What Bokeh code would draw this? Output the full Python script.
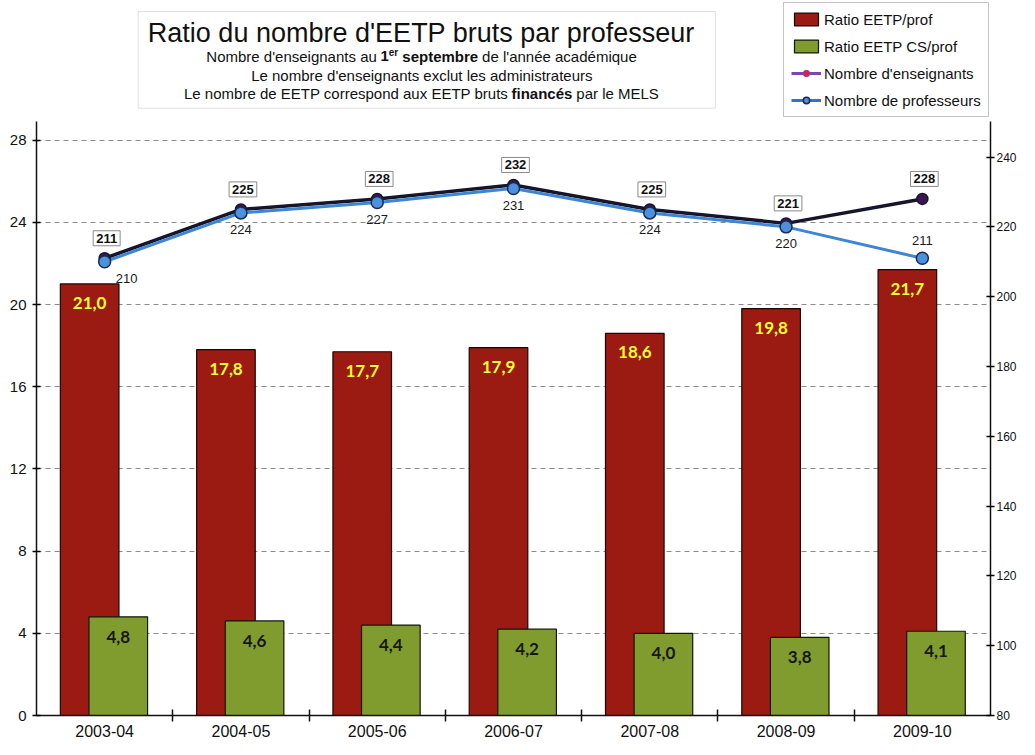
from bokeh.plotting import figure
from bokeh.models import (Range1d, LinearAxis, FixedTicker, ColumnDataSource, Legend,
                          LegendItem, BoxAnnotation, Label)
from bokeh.transform import dodge
from bokeh.core.properties import value
from bokeh.embed import file_html
from bokeh.resources import INLINE

# ---------------- data ----------------
categories = ["2003-04", "2004-05", "2005-06", "2006-07", "2007-08", "2008-09", "2009-10"]
ratio_eetp = [21.0, 17.8, 17.7, 17.9, 18.6, 19.8, 21.7]
ratio_cs = [4.8, 4.6, 4.4, 4.2, 4.0, 3.8, 4.1]
enseignants = [211, 225, 228, 232, 225, 221, 228]
professeurs = [210, 224, 227, 231, 224, 220, 211]
left_ticks = [0, 4, 8, 12, 16, 20, 24, 28]
right_ticks = [80, 100, 120, 140, 160, 180, 200, 220, 240]

title_text = "Ratio du nombre d'EETP bruts par professeur"
legend_labels = ["Ratio EETP/prof", "Ratio EETP CS/prof", "Nombre d'enseignants", "Nombre de professeurs"]

# ---------------- geometry (figure pixels) ----------------
W, H = 1019, 739
FL, FR, FT, FB = 36, 993, 0, 717
LPX = (717 - 140) / 28.0          # px per left unit
RPX = (717 - 157) / 160.0         # px per right unit
y_end = (FB - FT) / LPX
r_end = 80 + (FB - FT) / RPX
n = len(categories)

def sx(px):
    return (px - FL) / (FR - FL) * n

def sy(py):
    return (FB - py) / LPX

RED = "#9b1a11"
GREEN = "#809c2e"
FONT = "Liberation Sans"

p = figure(width=W, height=H, x_range=Range1d(0, n), y_range=Range1d(0, y_end),
           output_backend="svg", toolbar_location=None,
           min_border_left=FL, min_border_right=W - FR,
           min_border_top=FT, min_border_bottom=H - FB)
p.outline_line_color = None
p.background_fill_color = "white"
p.border_fill_color = "white"
p.extra_y_ranges = {"right": Range1d(80, r_end)}

# x axis
xa = p.xaxis[0]
xa.ticker = FixedTicker(ticks=[i + 0.5 for i in range(n)], minor_ticks=list(range(1, n)))
xa.major_label_overrides = {i + 0.5: c for i, c in enumerate(categories)}
xa.major_tick_in = 0
xa.major_tick_out = 0
xa.minor_tick_in = 6
xa.minor_tick_out = 6
xa.minor_tick_line_color = "#111111"
xa.minor_tick_line_width = 1.5
xa.axis_line_color = "#111111"
xa.axis_line_width = 1.5
xa.major_label_text_font = FONT
xa.major_label_text_font_size = "16px"
xa.major_label_text_color = "#111111"
xa.major_label_standoff = 3

# left y axis
ya = p.yaxis[0]
ya.ticker = FixedTicker(ticks=left_ticks)
ya.bounds = (0, (FB - 121) / LPX)
ya.major_tick_in = 4
ya.major_tick_out = 4
ya.minor_tick_in = 0
ya.minor_tick_out = 0
ya.axis_line_color = "#111111"
ya.axis_line_width = 1.5
ya.major_tick_line_width = 1.5
ya.major_label_text_font = FONT
ya.major_label_text_font_size = "15px"
ya.major_label_text_color = "#111111"
ya.major_label_standoff = 6

# right y axis
ra = LinearAxis(y_range_name="right", ticker=FixedTicker(ticks=right_ticks),
                bounds=(80, 80 + (FB - 121) / RPX))
ra.major_tick_in = 4
ra.major_tick_out = 4
ra.minor_tick_in = 0
ra.minor_tick_out = 0
ra.axis_line_color = "#111111"
ra.axis_line_width = 1.5
ra.major_tick_line_width = 1.5
ra.major_label_text_font = FONT
ra.major_label_text_font_size = "12px"
ra.major_label_text_color = "#111111"
ra.major_label_standoff = 2
p.add_layout(ra, "right")

p.xgrid.visible = False
p.ygrid.grid_line_color = "#8a8a8a"
p.ygrid.grid_line_dash = "5 4"
p.ygrid.grid_line_width = 1

# ---------------- source ----------------
def fr(v):
    return ("%.1f" % v).replace(".", ",")

prof_dy = [(-18 if pv < ev - 3 else 17) for pv, ev in zip(professeurs, enseignants)]
prof_dx = [22, 0, 0, 0, 0, 0, 0]

src = ColumnDataSource(dict(
    xc=[i + 0.5 for i in range(n)],
    cat=categories,
    eetp=ratio_eetp,
    cs=ratio_cs,
    ens=enseignants,
    prof=professeurs,
    eetp_lbl=[fr(v) for v in ratio_eetp],
    cs_lbl=[fr(v) for v in ratio_cs],
    ens_lbl=[str(v) for v in enseignants],
    prof_lbl=[str(v) for v in professeurs],
    prof_dy=prof_dy,
    prof_dx=prof_dx,
))

RED_OFF, GREEN_OFF, BW = -0.11, 0.10, 0.43

red = p.vbar(x=dodge("xc", RED_OFF, range=p.x_range), top="eetp", bottom=0, width=BW,
             source=src, fill_color=RED, line_color="#1a0805", line_width=1.2)
green = p.vbar(x=dodge("xc", GREEN_OFF, range=p.x_range), top="cs", bottom=0, width=BW,
               source=src, fill_color=GREEN, line_color="#101805", line_width=1.2)

p.text(x=dodge("xc", RED_OFF, range=p.x_range), y="eetp", text="eetp_lbl", source=src,
       y_offset=19, text_align="center", text_baseline="middle", text_color="#ffff2e",
       text_font=value("Lato"), text_font_style="bold", text_font_size="17px")
p.text(x=dodge("xc", GREEN_OFF, range=p.x_range), y="cs", text="cs_lbl", source=src,
       y_offset=20, text_align="center", text_baseline="middle", text_color="#161616",
       text_font=value("Lato"), text_font_style="bold", text_font_size="17px")

# lines
p.line(x="xc", y="ens", source=src, y_range_name="right", line_color="#15152b", line_width=3.5)
p.line(x="xc", y="prof", source=src, y_range_name="right", line_color="#3d86d3", line_width=3)
p.scatter(x="xc", y="ens", source=src, y_range_name="right", size=11,
          fill_color="#3c1553", line_color="#15152b", line_width=1.5)
p.scatter(x="xc", y="prof", source=src, y_range_name="right", size=12,
          fill_color="#4b91de", line_color="#1b2a50", line_width=1.5)

p.text(x="xc", y="ens", text="ens_lbl", source=src, y_range_name="right",
       y_offset=-20, x_offset=2, text_align="center", text_baseline="middle",
       text_color="#111111", text_font=value(FONT), text_font_style="bold",
       text_font_size="13px", background_fill_color="white",
       border_line_color="#8a8a8a", border_line_width=1, padding=3)
p.text(x="xc", y="prof", text="prof_lbl", source=src, y_range_name="right",
       y_offset="prof_dy", x_offset="prof_dx", text_align="center", text_baseline="middle",
       text_color="#1a1a1a", text_font=value(FONT), text_font_size="13px")

# ---------------- legend (sample glyphs placed off-frame) ----------------
off = dict(x=[-50], y=[-50])
leg_ens_line = p.line(x=[-50, -49], y=[-50, -50], line_color="#7e43b5", line_width=3)
leg_ens_dot = p.scatter(size=8, fill_color="#e8202a", line_color="#7e43b5", **off)
leg_prof_line = p.line(x=[-50, -49], y=[-50, -50], line_color="#2f76c8", line_width=3)
leg_prof_dot = p.scatter(size=8, fill_color="#4b91de", line_color="#1b2a50",
                         line_width=1.5, **off)

legend = Legend(items=[
    LegendItem(label=legend_labels[0], renderers=[red]),
    LegendItem(label=legend_labels[1], renderers=[green]),
    LegendItem(label=legend_labels[2], renderers=[leg_ens_line, leg_ens_dot]),
    LegendItem(label=legend_labels[3], renderers=[leg_prof_line, leg_prof_dot]),
], location=(783 - FL, FB - 119))
legend.padding = 7
legend.spacing = 9
legend.margin = 0
legend.glyph_width = 30
legend.glyph_height = 16
legend.label_height = 18
legend.label_standoff = 3
legend.label_text_font = FONT
legend.label_text_font_size = "15px"
legend.label_text_color = "#111111"
legend.border_line_color = "#8c8c8c"
legend.border_line_width = 1
legend.background_fill_color = "white"
legend.background_fill_alpha = 1
p.add_layout(legend)

# ---------------- title box ----------------
p.add_layout(BoxAnnotation(left=sx(138), right=sx(717), top=sy(11), bottom=sy(108),
                           fill_color="white", fill_alpha=1, line_color="#9a9a9a",
                           line_width=1))
p.add_layout(Label(x=sx(422), y=sy(33), text=title_text, text_align="center",
                   text_baseline="middle", text_font=FONT, text_font_size="27px",
                   text_color="#111111"))

REG = {' ': 278, "'": 191, '-': 333, ',': 278, 'a': 556, 'b': 556, 'c': 500, 'd': 556,
       'e': 556, 'f': 278, 'g': 556, 'h': 556, 'i': 222, 'j': 222, 'k': 500, 'l': 222,
       'm': 833, 'n': 556, 'o': 556, 'p': 556, 'q': 556, 'r': 333, 's': 500, 't': 278,
       'u': 556, 'v': 500, 'x': 500, 'y': 500, 'é': 556, 'A': 667, 'E': 667, 'L': 556,
       'M': 833, 'N': 722, 'P': 667, 'S': 667, 'T': 611}
BOLD = {' ': 278, '1': 556, 'a': 556, 'b': 611, 'c': 556, 'd': 611, 'e': 556, 'f': 333,
        'i': 278, 'm': 889, 'n': 611, 'o': 611, 'p': 611, 'r': 389, 's': 556, 't': 333,
        'é': 556}

def tw(s, size, bold):
    tab = BOLD if bold else REG
    return sum(tab.get(c, 556) for c in s) * size / 1000.0

sub_lines = [
    (56, [("Nombre d'enseignants au", False, 15, 0, True), ("1", True, 15, 0, False),
          ("er", True, 10, 4, True), ("septembre", True, 15, 0, True),
          ("de l'année académique", False, 15, 0, False)]),
    (75, [("Le nombre d'enseignants exclut les administrateurs", False, 15, 0, False)]),
    (93, [("Le nombre de EETP correspond aux EETP bruts", False, 15, 0, True),
          ("financés", True, 15, 0, True), ("par le MELS", False, 15, 0, False)]),
]
for ypx, segs in sub_lines:
    total = sum(tw(t, s, b) + (tw(' ', 15, False) if sp else 0) for t, b, s, r, sp in segs)
    x0 = 422 - total / 2.0
    for t, b, s, r, sp in segs:
        p.add_layout(Label(x=sx(x0), y=sy(ypx - r), text=t, text_align="left",
                           text_baseline="middle", text_font=FONT,
                           text_font_size="%dpx" % s,
                           text_font_style="bold" if b else "normal",
                           text_color="#111111"))
        x0 += tw(t, s, b) + (tw(' ', 15, False) if sp else 0)

open("out.html", "w").write(file_html(p, INLINE))
